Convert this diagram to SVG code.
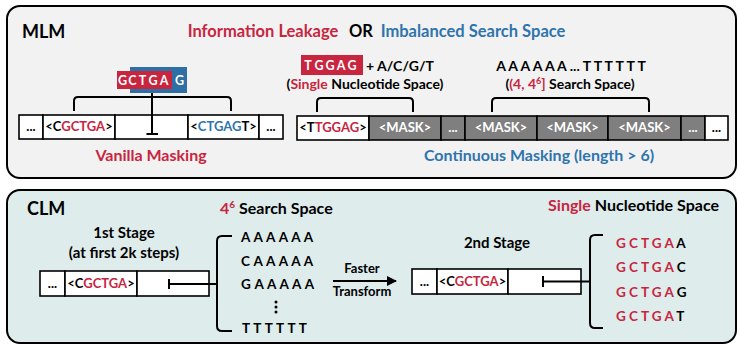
<svg xmlns="http://www.w3.org/2000/svg" width="739" height="345" viewBox="0 0 739 345">
<defs>
<style>
text{font-family:Lato,"Open Sans","Liberation Sans",sans-serif;font-weight:bold;fill:#000}
.r{fill:#c8253f}
.b{fill:#2f74ad}
.w{fill:#fff}
.m{text-anchor:middle}
.cell{fill:#fff;stroke:#000;stroke-width:1.6}
.gcell{fill:#7f7f7f;stroke:#000;stroke-width:1.6}
.ln{fill:none;stroke:#000;stroke-width:2}
.seq{font-size:13px}
.lst{font-size:13.5px;word-spacing:0.8px}
.lst2{font-size:13.5px}
.t14{font-size:14px}
.t15{font-size:15px}
.t16{font-size:16px}
.tok{font-size:12.5px;fill:#fff;text-anchor:middle}
</style>
<marker id="ah" viewBox="0 0 10 10" refX="9" refY="5" markerWidth="6" markerHeight="5" orient="auto" markerUnits="strokeWidth">
<path d="M0,0 L10,5 L0,10 z" fill="#000"/>
</marker>
</defs>

<g id="panel-mlm">
<rect x="7" y="6" width="729" height="172" rx="13" fill="#f2f2f2" stroke="#000" stroke-width="2"/>
<text x="22" y="38" font-size="18">MLM</text>
<text x="263" y="37" font-size="16.5" class="r m">Information Leakage</text>
<text x="361" y="37" font-size="16.5" class="m">OR</text>
<text x="473" y="37" font-size="16.5" class="b m">Imbalanced Search Space</text>
</g>

<g id="panel-clm">
<rect x="7" y="190" width="729" height="153" rx="13" fill="#deecec" stroke="#000" stroke-width="2"/>
<text x="27" y="215" font-size="18">CLM</text>
</g>

<g id="vanilla-token">
<rect x="130" y="67" width="57" height="26" fill="#2e6fa5"/>
<rect x="117" y="71" width="55" height="18" fill="#c8253f"/>
<text class="tok" x="122.5" y="85">G</text>
<text class="tok" x="132.5" y="85">C</text>
<text class="tok" x="142.5" y="85">T</text>
<text class="tok" x="153" y="85">G</text>
<text class="tok" x="164" y="85">A</text>
<text class="tok" x="179.5" y="85">G</text>
</g>

<g id="vanilla-seq">
<rect class="cell" x="19" y="115" width="24" height="24"/>
<rect class="cell" x="43" y="115" width="72" height="24"/>
<rect class="cell" x="115" y="115" width="73" height="24"/>
<rect class="cell" x="188" y="115" width="71" height="24"/>
<rect class="cell" x="259" y="115" width="24" height="24"/>
<text class="seq m" x="31" y="131">...</text>
<text class="seq m" x="79" y="131">&lt;C<tspan class="r">GCTGA</tspan>&gt;</text>
<text class="seq m" x="223.5" y="131">&lt;<tspan class="b">CTGAG</tspan>T&gt;</text>
<text class="seq m" x="271" y="131">...</text>
<text x="151" y="161" class="r t16 m">Vanilla Masking</text>
</g>

<g id="continuous-seq">
<rect class="cell" x="297" y="116" width="72" height="24"/>
<rect class="gcell" x="369" y="116" width="72" height="24"/>
<rect class="gcell" x="441" y="116" width="24" height="24"/>
<rect class="gcell" x="465" y="116" width="72" height="24"/>
<rect class="gcell" x="537" y="116" width="71" height="24"/>
<rect class="gcell" x="608" y="116" width="73" height="24"/>
<rect class="gcell" x="681" y="116" width="24" height="24"/>
<rect class="cell" x="705" y="116" width="23" height="24"/>
<text class="seq m" x="333" y="132">&lt;T<tspan class="r">TGGAG</tspan>&gt;</text>
<text class="seq w m" x="405" y="132">&lt;MASK&gt;</text>
<text class="seq w m" x="453" y="132">...</text>
<text class="seq w m" x="501" y="132">&lt;MASK&gt;</text>
<text class="seq w m" x="572.5" y="132">&lt;MASK&gt;</text>
<text class="seq w m" x="644.5" y="132">&lt;MASK&gt;</text>
<text class="seq w m" x="693" y="132">...</text>
<text class="seq m" x="716.5" y="132">...</text>
<text x="539" y="161" class="b t16 m">Continuous Masking (length &gt; 6)</text>
</g>

<g id="single-space-label">
<rect x="301" y="55" width="62" height="20" fill="#c8253f"/>
<text class="tok" font-size="13" x="308" y="70">T</text>
<text class="tok" font-size="13" x="319" y="70">G</text>
<text class="tok" font-size="13" x="330" y="70">G</text>
<text class="tok" font-size="13" x="341" y="70">A</text>
<text class="tok" font-size="13" x="352" y="70">G</text>
<text class="t14" x="366" y="71">+ A/C/G/T</text>
<text class="t14 m" x="365" y="89">(<tspan class="r">Single</tspan> Nucleotide Space)</text>
</g>

<g id="search-space-label">
<text class="t14 m" x="571" y="71">A A A A A A ... T T T T T T</text>
<text class="t14 m" x="570" y="89">(<tspan class="r">(4, 4<tspan font-size="9" dy="-5">6</tspan><tspan dy="5">]</tspan></tspan> Search Space)</text>
</g>

<g id="stage1">
<text class="t15 m" x="124" y="238">1st Stage</text>
<text class="t15 m" x="124" y="258">(at first 2k steps)</text>
<rect class="cell" x="40" y="271" width="25" height="25"/>
<rect class="cell" x="65" y="271" width="72" height="25"/>
<rect class="cell" x="137" y="271" width="72" height="25"/>
<text class="seq m" x="52.5" y="288">...</text>
<text class="seq m" x="101" y="288">&lt;C<tspan class="r">GCTGA</tspan>&gt;</text>
</g>

<g id="search-space-list">
<text class="t16" x="220" y="214"><tspan class="r">4<tspan font-size="10" dy="-6">6</tspan></tspan><tspan dy="6"> Search Space</tspan></text>
<text class="lst" x="241" y="242">A A A A A A</text>
<text class="lst" x="241" y="266">C A A A A A</text>
<text class="lst" x="241" y="289">G A A A A A</text>
<circle cx="276" cy="302" r="1.5"/>
<circle cx="276" cy="307" r="1.5"/>
<circle cx="276" cy="312" r="1.5"/>
<text class="lst" x="242" y="333">T T T T T T</text>
</g>

<g id="transform-label">
<text class="seq m" x="362" y="273">Faster</text>
<text class="seq m" x="362" y="296">Transform</text>
</g>

<g id="stage2">
<text class="t15 m" x="497" y="248">2nd Stage</text>
<rect class="cell" x="412" y="269" width="25" height="25"/>
<rect class="cell" x="437" y="269" width="71" height="25"/>
<rect class="cell" x="508" y="269" width="73" height="25"/>
<text class="seq m" x="424.5" y="286">...</text>
<text class="seq m" x="472.5" y="286">&lt;C<tspan class="r">GCTGA</tspan>&gt;</text>
</g>

<g id="single-space-list">
<text class="t16" x="719" y="211" text-anchor="end"><tspan class="r">Single</tspan> Nucleotide Space</text>
<text class="lst2" x="616" y="248"><tspan class="r">G C T G A</tspan> A</text>
<text class="lst2" x="616" y="272"><tspan class="r">G C T G A</tspan> C</text>
<text class="lst2" x="616" y="297"><tspan class="r">G C T G A</tspan> G</text>
<text class="lst2" x="616" y="321"><tspan class="r">G C T G A</tspan> T</text>
</g>

<g id="connectors">
<path class="ln" d="M74 111 V101 Q74 97 78 97 H227 Q231 97 231 101 V111"/>
<path class="ln" d="M152 93 V134 M146.5 134 H158"/>
<path class="ln" d="M317 112 V102 Q317 98 321 98 H409 Q413 98 413 102 V112"/>
<path class="ln" d="M492 112 V102 Q492 98 496 98 H645 Q649 98 649 102 V112"/>
<path class="ln" d="M169 279 V289 M169 284 H217"/>
<path class="ln" d="M232 236 H222 Q217 236 217 241 V326 Q217 331 222 331 H232"/>
<line class="ln" x1="333" y1="281" x2="396" y2="281" marker-end="url(#ah)"/>
<path class="ln" d="M543 276 V287 M543 281.5 H590"/>
<path class="ln" d="M603 235 H595 Q590 235 590 240 V323 Q590 328 595 328 H603"/>
</g>
</svg>
